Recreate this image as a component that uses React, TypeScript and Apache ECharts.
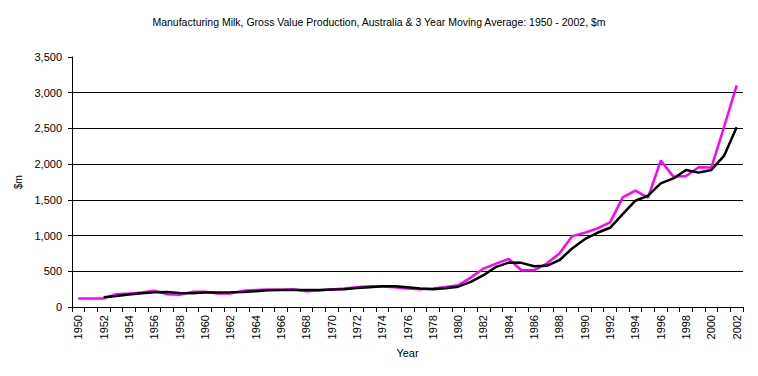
import React, { useEffect, useRef } from "react";
import * as echarts from "echarts";

const years: string[] = [];
for (let y = 1950; y <= 2002; y++) years.push(String(y));

const grossValue = [
  120, 120, 120, 178, 188, 202, 228, 180, 172, 212,
  215, 190, 190, 228, 238, 244, 240, 248, 222, 230,
  244, 258, 276, 290, 288, 276, 258, 248, 258, 280,
  304, 412, 538, 608, 674, 515, 515, 608, 749, 992,
  1040, 1100, 1184, 1535, 1629, 1530, 2050, 1825, 1835, 1956,
  1952, 2520, 3103,
];

const movingAverage = [
  null, null, 136, 154, 174, 192, 206, 211, 197, 192,
  202, 202, 206, 211, 220, 234, 239, 239, 239, 239,
  244, 248, 267, 276, 290, 290, 276, 258, 248, 262,
  285, 351, 445, 562, 622, 618, 571, 576, 655, 819,
  950, 1039, 1109, 1301, 1488, 1558, 1730, 1800, 1919, 1881,
  1919, 2115, 2518,
];

const titleText =
  "Manufacturing Milk, Gross Value Production, Australia & 3 Year Moving Average: 1950 - 2002, $m";

const FONT = "'Liberation Sans', Arial, sans-serif";

export default function App() {
  const ref = useRef<HTMLDivElement>(null);
  useEffect(() => {
    document.body.style.margin = "0";
    if (!ref.current) return;
    const chart = echarts.init(ref.current, null, { renderer: "svg" });
    chart.setOption({
      animation: false,
      backgroundColor: "#ffffff",
      title: {
        text: titleText,
        left: "center",
        top: 11,
        textStyle: { fontFamily: FONT, fontSize: 10.5, fontWeight: "normal", color: "#000" },
      },
      grid: { left: 72, right: 15, top: 57, bottom: 69, containLabel: false },
      xAxis: {
        type: "category",
        data: years,
        boundaryGap: true,
        name: "Year",
        nameLocation: "middle",
        nameGap: 40,
        nameTextStyle: { fontFamily: FONT, fontSize: 11, color: "#000" },
        axisLine: { show: true, lineStyle: { color: "#000", width: 1 } },
        axisTick: { show: true, interval: 0, length: 5, lineStyle: { color: "#000" } },
        axisLabel: {
          interval: 1,
          rotate: 90,
          margin: 8,
          fontFamily: FONT,
          fontSize: 11,
          color: "#000",
        },
        splitLine: { show: false },
      },
      yAxis: {
        type: "value",
        min: 0,
        max: 3500,
        interval: 500,
        name: "$m",
        nameLocation: "middle",
        nameGap: 36,
        nameRotate: 90,
        nameTextStyle: { fontFamily: FONT, fontSize: 10, color: "#000" },
        axisLine: { show: true, lineStyle: { color: "#000", width: 1 } },
        axisTick: { show: true, length: 4, lineStyle: { color: "#000" } },
        axisLabel: {
          margin: 10,
          fontFamily: FONT,
          fontSize: 11,
          color: "#000",
          formatter: (v: number) => v.toLocaleString("en-US"),
        },
        splitLine: {
          show: true,
          lineStyle: {
            color: ["#000", "#000", "#000", "#000", "#000", "#000", "#000", "rgba(0,0,0,0)"],
            width: 1,
          },
        },
      },
      series: [
        {
          name: "Gross Value",
          type: "line",
          data: grossValue,
          showSymbol: false,
          symbol: "none",
          lineStyle: { color: "#FF00FF", width: 2.5 },
          itemStyle: { color: "#FF00FF" },
          z: 2,
        },
        {
          name: "3 Year Moving Average",
          type: "line",
          data: movingAverage,
          showSymbol: false,
          symbol: "none",
          connectNulls: false,
          lineStyle: { color: "#000000", width: 2.5 },
          itemStyle: { color: "#000000" },
          z: 3,
        },
      ],
    });
    return () => chart.dispose();
  }, []);
  return <div ref={ref} style={{ width: 758, height: 376 }} />;
}
